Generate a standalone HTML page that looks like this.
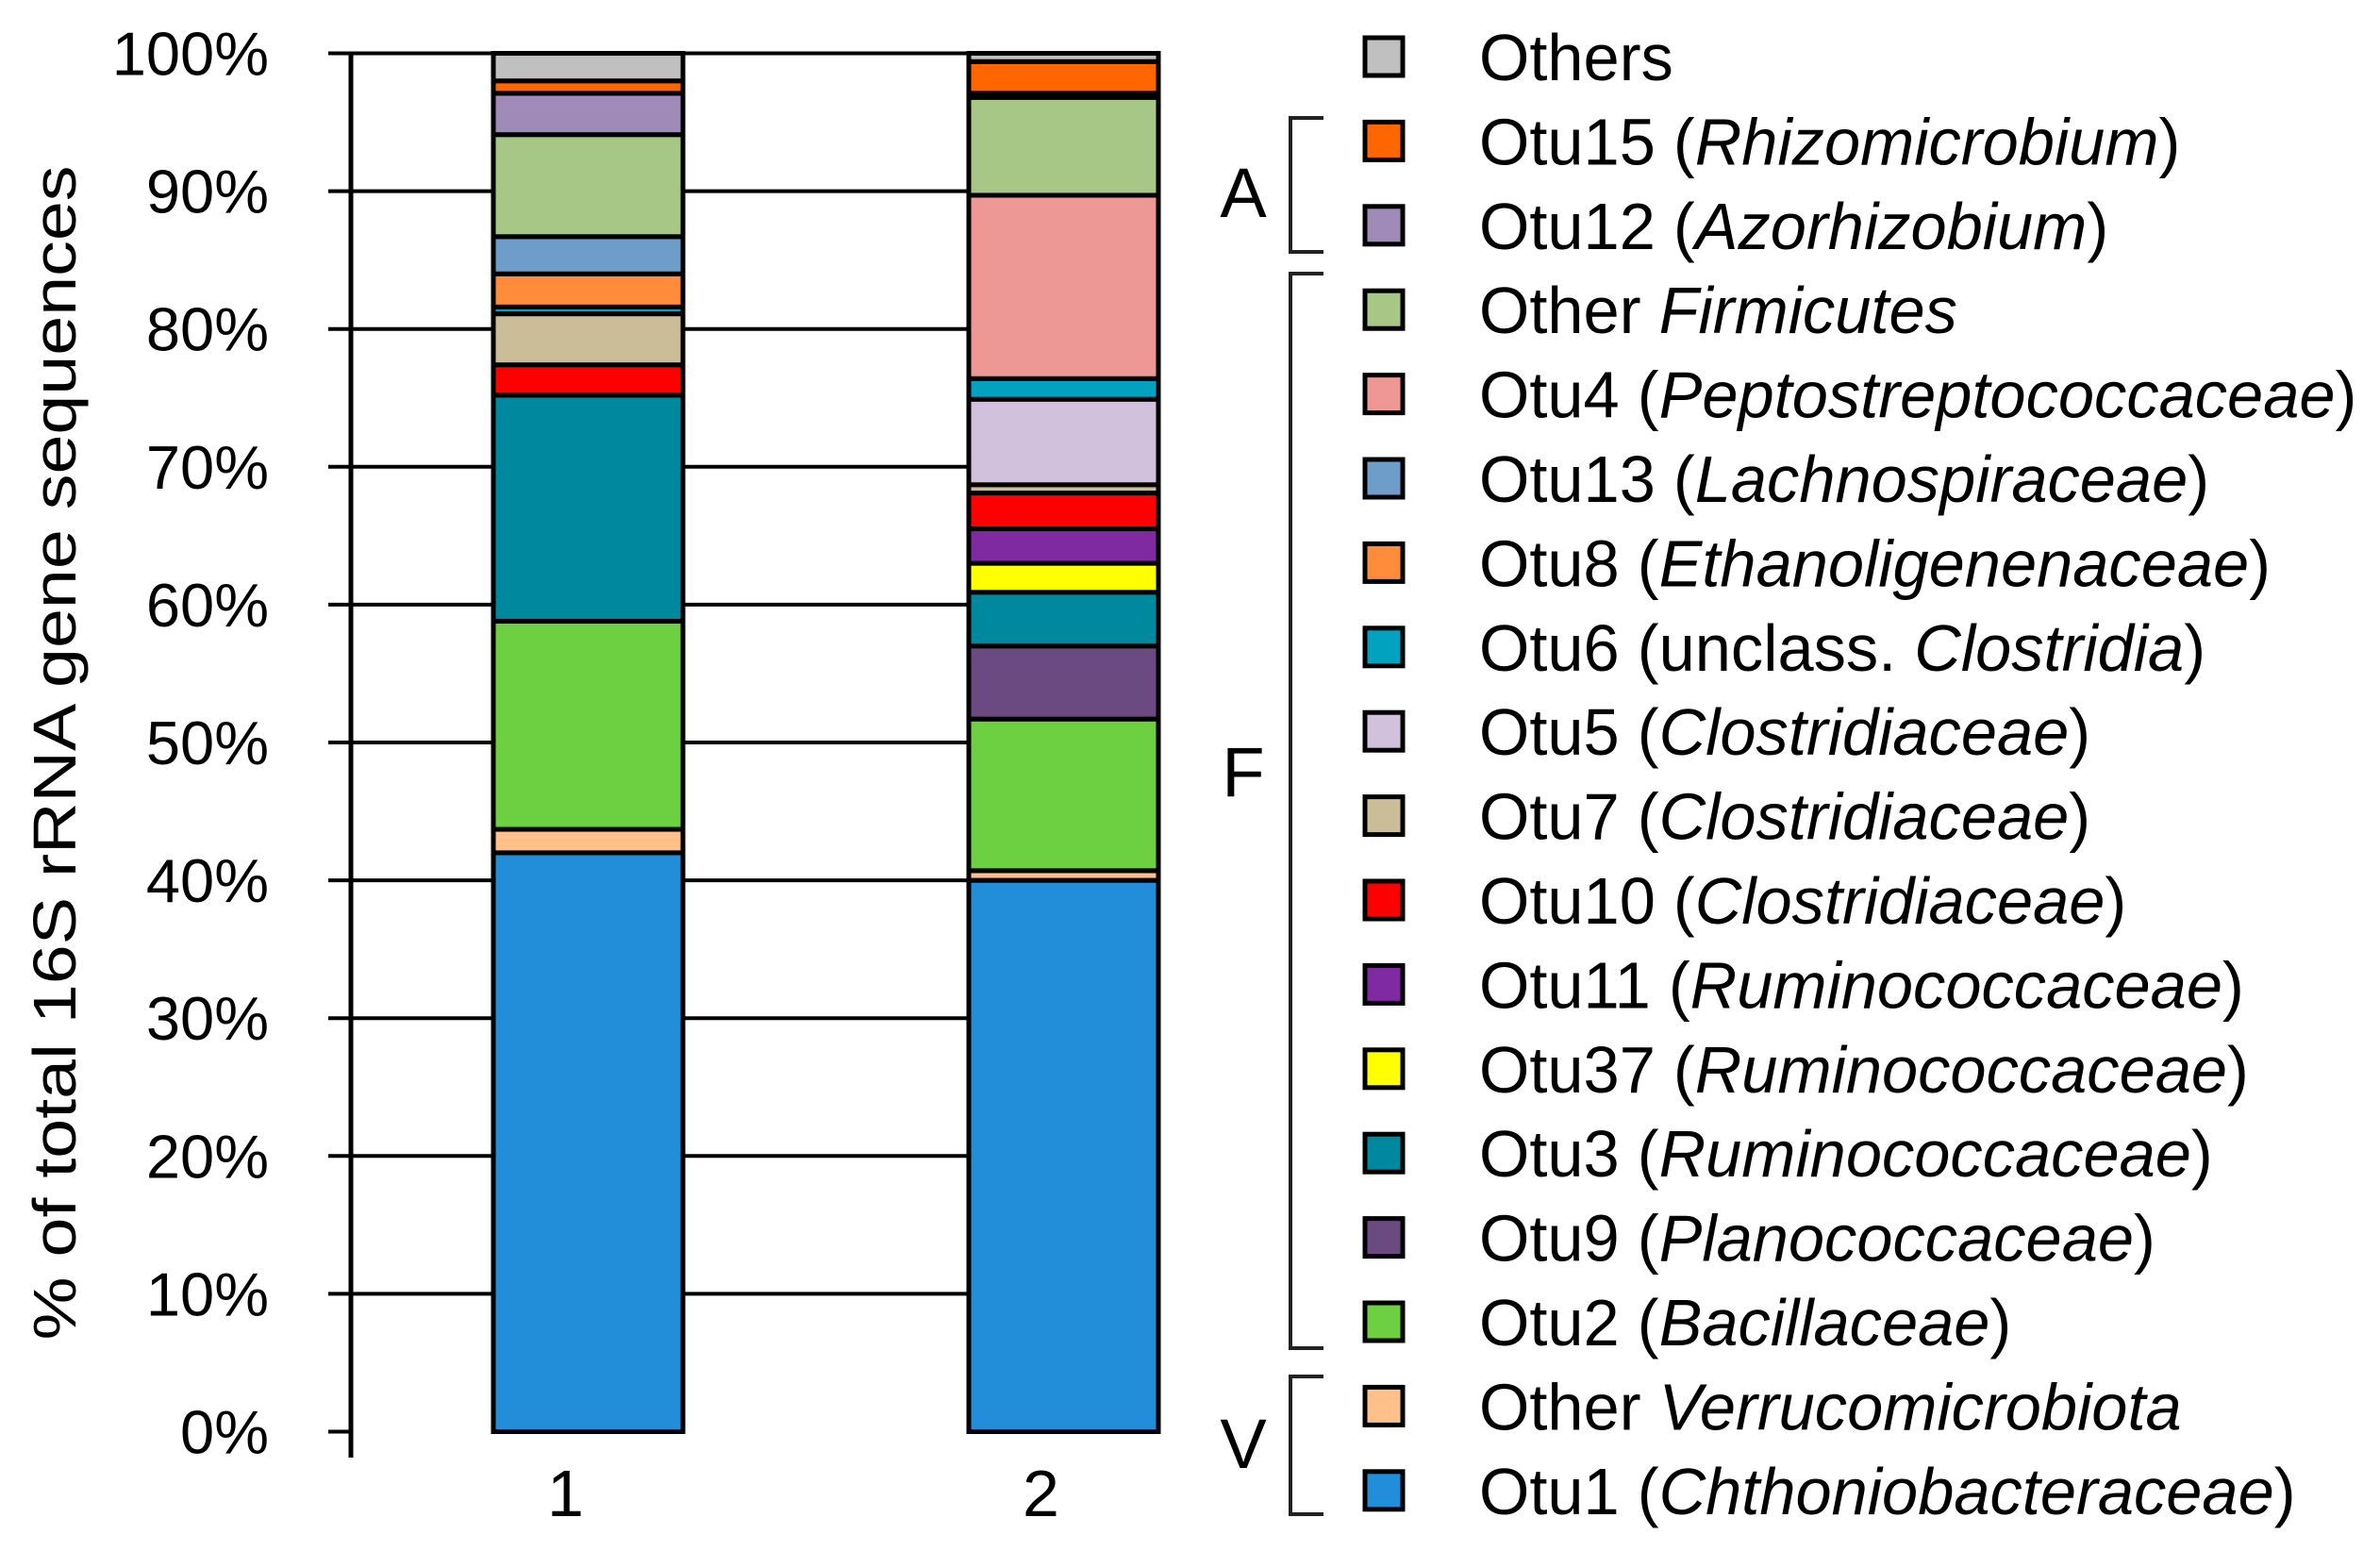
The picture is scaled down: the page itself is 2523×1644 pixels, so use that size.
<!DOCTYPE html>
<html><head><meta charset="utf-8"><style>
html,body{margin:0;padding:0;background:#fff}
svg{display:block}
text{font-family:"Liberation Sans",Arial,sans-serif;fill:#000}
</style></head><body>
<svg id="chart" width="2523" height="1644" viewBox="0 0 2523 1644" xmlns="http://www.w3.org/2000/svg">
<g id="grid"></g>
<g id="bars"></g>
<g id="axis"></g>
<g id="legend"></g>
<g id="brackets"></g>
<text transform="translate(80,798) rotate(-90)" text-anchor="middle" font-size="64" fill="#222" textLength="1245" lengthAdjust="spacingAndGlyphs">% of total 16S rRNA gene sequences</text>
</svg>
<script>
const NS="http://www.w3.org/2000/svg";
const categories=["1","2"];
const seriesNames=["Otu1","Other Verrucomicrobiota","Otu2","Otu9","Otu3","Otu37","Otu11","Otu10","Otu7","Otu5","Otu6","Otu8","Otu13","Otu4","Other Firmicutes","Otu12","Otu15","Others"];
const sample1Values=[42.0,1.7,15.1,0,16.4,0,0,2.2,3.7,0,0.5,2.4,2.7,0,7.4,3.0,0.9,2.0];
const sample2Values=[40.0,0.7,11.0,5.3,3.9,2.1,2.5,2.6,0.6,6.2,1.5,0,0,13.3,7.1,0.3,2.3,0.6];
const seriesColors=["#228dd8","#ffc08a","#6cd040","#6a4a80","#00889e","#ffff00","#7f2aa0","#ff0000","#cbbd97","#d1c1dc","#00a2c0","#ff8c3a","#6f9dca","#ee9896","#a6c785","#a08ab8","#ff6600","#c0c0c0"];
const tickValues=[0,10,20,30,40,50,60,70,80,90,100];
const tickLabels=["0%","10%","20%","30%","40%","50%","60%","70%","80%","90%","100%"];
const legendLabels=[["Others",""],["Otu15 (","Rhizomicrobium",")"],["Otu12 (","Azorhizobium",")"],["Other ","Firmicutes",""],["Otu4 (","Peptostreptococcaceae",")"],["Otu13 (","Lachnospiraceae",")"],["Otu8 (","Ethanoligenenaceae",")"],["Otu6 (unclass. ","Clostridia",")"],["Otu5 (","Clostridiaceae",")"],["Otu7 (","Clostridiaceae",")"],["Otu10 (","Clostridiaceae",")"],["Otu11 (","Ruminococcaceae",")"],["Otu37 (","Ruminococcaceae",")"],["Otu3 (","Ruminococcaceae",")"],["Otu9 (","Planococcaceae",")"],["Otu2 (","Bacillaceae",")"],["Other ","Verrucomicrobiota",""],["Otu1 (","Chthoniobacteraceae",")"]];
const legendColors=["#c0c0c0","#ff6600","#a08ab8","#a6c785","#ee9896","#6f9dca","#ff8c3a","#00a2c0","#d1c1dc","#cbbd97","#ff0000","#7f2aa0","#ffff00","#00889e","#6a4a80","#6cd040","#ffc08a","#228dd8"];

const y0=1517.5,y100=56.5;
const yScale=v=>y0-(y0-y100)*v/100;
const barLeft=[523,1027],barW=201;
const axisX=372;
function mk(tag,attrs,parent){const e=document.createElementNS(NS,tag);for(const k in attrs)e.setAttribute(k,attrs[k]);parent.appendChild(e);return e;}

const grid=document.getElementById('grid'),axis=document.getElementById('axis'),bars=document.getElementById('bars'),legend=document.getElementById('legend'),br=document.getElementById('brackets');
tickValues.forEach((v,i)=>{
  const y=yScale(v);
  if(v>0){const l=mk('line',{x1:axisX,x2:1229,y1:y,y2:y,stroke:'#000','stroke-width':4},grid);
  
  }
  const t=mk('line',{x1:348,x2:axisX,y1:y,y2:y,stroke:'#000','stroke-width':4},axis);
  
  
  const tx=mk('text',{x:285,y:y+23,'text-anchor':'end','font-size':65,fill:'#111'},axis);
  tx.textContent=tickLabels[i];
  
  
});
const ax=mk('line',{x1:axisX,x2:axisX,y1:y100-2,y2:1545,stroke:'#000','stroke-width':5},axis);



[sample1Values,sample2Values].forEach((vals,b)=>{
  let cum=0;
  vals.forEach((v,i)=>{
    if(v<=0)return;
    const top=yScale(cum+v),bot=yScale(cum);cum+=v;
    const r=mk('rect',{x:barLeft[b],y:top,width:barW,height:bot-top,fill:seriesColors[i],stroke:'#000','stroke-width':5},bars);
    
    
  });
  const xl=mk('text',{x:barLeft[b]+barW/2-24,y:1607,'text-anchor':'middle','font-size':70,fill:'#111'},axis);
  xl.textContent=categories[b];
  
  
});

legendLabels.forEach((lab,i)=>{
  const cy=60+i*89.4;
  const sq=mk('rect',{x:1447,y:cy-20,width:40,height:40,fill:legendColors[i],stroke:'#000','stroke-width':5},legend);
  
  
  const t=mk('text',{transform:`translate(1568,${cy+25}) scale(0.98,1)`,'font-size':70,fill:'#111'},legend);
  
  
  const a=mk('tspan',{},t);a.textContent=lab[0];
  if(lab[1]){const b=mk('tspan',{'font-style':'italic'},t);b.textContent=lab[1];}
  if(lab[2]){const c=mk('tspan',{},t);c.textContent=lab[2];}
});

const brs=[["A",125,267,203],["F",290,1429,817],["V",1459,1605,1529]];
brs.forEach(b=>{
  const p=mk('path',{d:`M1403 ${b[1]} H1368 V${b[2]} H1403`,fill:'none',stroke:'#222','stroke-width':4},br);
  
  
  const t=mk('text',{x:1318,y:b[3]+27,'text-anchor':'middle','font-size':74,fill:'#333'},br);
  t.textContent=b[0];
  
  
});
</script>
</body></html>
